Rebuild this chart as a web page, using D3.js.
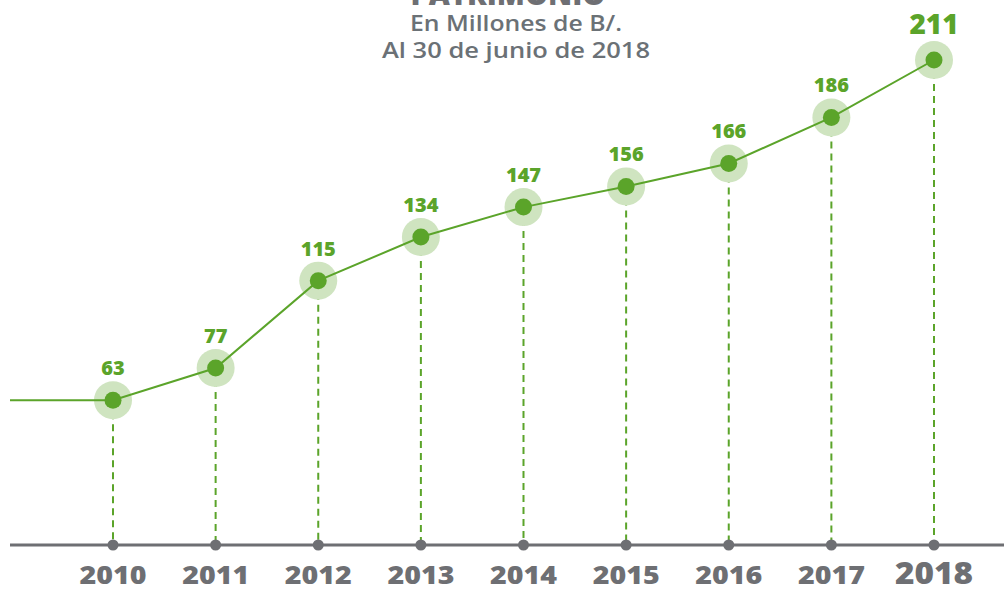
<!DOCTYPE html>
<html>
<head>
<meta charset="utf-8">
<script src="https://cdn.jsdelivr.net/npm/d3@7"></script>
<style>
  body { margin: 0; background: #fff; }
  svg { display: block; font-family: "Open Sans", "DejaVu Sans", sans-serif; }
</style>
</head>
<body>
<div id="chart"></div>
<script>
const years = ["2010", "2011", "2012", "2013", "2014", "2015", "2016", "2017", "2018"]
const patrimonio = [63, 77, 115, 134, 147, 156, 166, 186, 211]
const titleLines = ["PATRIMONIO", "En Millones de B/.", "Al 30 de junio de 2018"]

const width = 1004
const height = 592
const green = "#5ba42a"
const halo = "#cfe4c0"
const grey = "#6e6f73"

const svg = d3.select("#chart").append("svg")
  .attr("width", width)
  .attr("height", height)

const x = d3.scalePoint()
  .domain(years)
  .range([113, 934])

const y = d3.scaleLinear()
  .domain([0, 211])
  .range([545, 60])

const data = years.map((yr, i) => ({ year: yr, value: patrimonio[i] }))
const last = data[data.length - 1]

// title (cut off at the top edge, as in the original)
svg.append("text")
  .attr("x", 508).attr("y", 5)
  .attr("text-anchor", "middle")
  .attr("font-size", 30).attr("font-weight", 800)
  .attr("textLength", 195).attr("lengthAdjust", "spacingAndGlyphs")
  .attr("fill", grey)
  .text(titleLines[0])

const subLen = [212, 268]
svg.selectAll(".subtitle")
  .data(titleLines.slice(1))
  .enter().append("text")
  .attr("class", "subtitle")
  .attr("x", 516)
  .attr("y", (d, i) => 31 + i * 27)
  .attr("text-anchor", "middle")
  .attr("font-size", 21).attr("font-weight", 600)
  .attr("textLength", (d, i) => subLen[i]).attr("lengthAdjust", "spacingAndGlyphs")
  .attr("fill", "#6b7176")
  .text(d => d)

// dashed drop lines
svg.selectAll(".drop")
  .data(data)
  .enter().append("line")
  .attr("class", "drop")
  .attr("x1", d => x(d.year)).attr("x2", d => x(d.year))
  .attr("y1", d => y(d.value)).attr("y2", y(0))
  .attr("stroke", green).attr("stroke-width", 2)
  .attr("stroke-dasharray", "7,5")

// baseline axis
svg.append("line")
  .attr("x1", 10).attr("x2", width)
  .attr("y1", y(0)).attr("y2", y(0))
  .attr("stroke", grey).attr("stroke-width", 3)

svg.selectAll(".tickdot")
  .data(years)
  .enter().append("circle")
  .attr("class", "tickdot")
  .attr("cx", d => x(d)).attr("cy", y(0))
  .attr("r", 5.5)
  .attr("fill", grey)

const isLastYear = (d, i) => i === years.length - 1
svg.selectAll(".year")
  .data(years)
  .enter().append("text")
  .attr("class", "year")
  .attr("x", d => x(d))
  .attr("y", 584)
  .attr("text-anchor", "middle")
  .attr("font-weight", 800)
  .attr("font-size", (d, i) => isLastYear(d, i) ? 30 : 24)
  .attr("textLength", (d, i) => isLastYear(d, i) ? 78 : 67)
  .attr("lengthAdjust", "spacingAndGlyphs")
  .attr("fill", grey)
  .text(d => d)

// line, with a flat lead-in from the left edge
const lineGen = d3.line()
  .x(d => d.px)
  .y(d => y(d.value))

const pts = [{ px: 10, value: data[0].value }]
  .concat(data.map(d => ({ px: x(d.year), value: d.value })))

svg.selectAll(".halo")
  .data(data)
  .enter().append("circle")
  .attr("class", "halo")
  .attr("cx", d => x(d.year)).attr("cy", d => y(d.value))
  .attr("r", 19)
  .attr("fill", halo)

svg.append("path")
  .datum(pts)
  .attr("d", lineGen)
  .attr("fill", "none")
  .attr("stroke", green)
  .attr("stroke-width", 2)

svg.selectAll(".dot")
  .data(data)
  .enter().append("circle")
  .attr("class", "dot")
  .attr("cx", d => x(d.year)).attr("cy", d => y(d.value))
  .attr("r", 8.5)
  .attr("fill", green)

svg.selectAll(".val")
  .data(data)
  .enter().append("text")
  .attr("class", "val")
  .attr("x", d => x(d.year))
  .attr("y", d => d === last ? y(d.value) - 26 : y(d.value) - 25)
  .attr("text-anchor", "middle")
  .attr("font-weight", 800)
  .attr("font-size", d => d === last ? 28 : 20)
  .attr("fill", green)
  .text(d => d.value)
</script>
</body>
</html>
